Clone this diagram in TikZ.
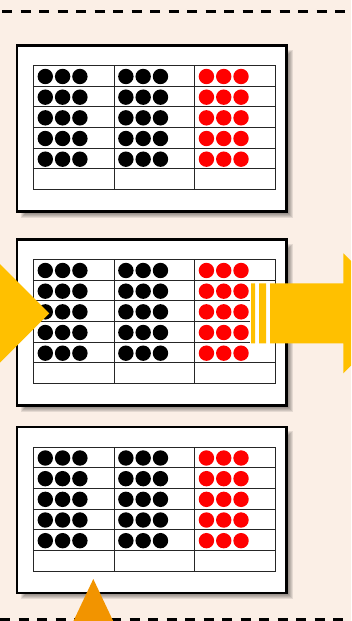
\documentclass[tikz,border=0pt]{standalone}
\definecolor{bg}{RGB}{251,239,230}
\definecolor{gold}{RGB}{255,192,0}
\definecolor{orng}{RGB}{242,148,0}
\definecolor{dotred}{RGB}{255,0,0}
\tikzset{
  dashline/.style={line width=3pt, dash pattern=on 10pt off 8.5pt},
  panelframe/.style={line width=2.8pt, draw=black, fill=white},
  gridline/.style={line width=0.9pt, draw=black!85},
  panel/.pic={
    \foreach \d in {0,...,6}
      \fill[black,opacity=0.09] (4+\d,4+\d) rectangle (276-\d,172-\d);
    \draw[panelframe] (0,0) rectangle (269.5,166);
    \foreach \r in {1,...,5}
      \draw[gridline] (16.8,20+\r*20.67) -- (258.5,20+\r*20.67);
    \foreach \c in {1,2}
      \draw[gridline] (16.8+\c*80.57,20) -- (16.8+\c*80.57,144);
    \draw[gridline] (16.8,20) rectangle (258.5,144);
    \foreach \c/\col in {0/black,1/black,2/dotred}
      \foreach \r in {0,...,4}
        \foreach \k in {0,1,2}
          \fill[\col] (16.8+\c*80.57+11.5+\k*17.3, 20+\r*20.67+11) circle (7.7);
  }
}
\begin{document}
\begin{tikzpicture}[x=1pt,y=-1pt]
\useasboundingbox (0,0) rectangle (351,621);
\fill[bg] (0,0) rectangle (351,621);
\clip (0,0) rectangle (351,621);
\draw[dashline] (2,11) coordinate (t0) -- (351,11) coordinate (t1);
\draw[dashline] (0,619) coordinate (b0) -- (351,619) coordinate (b1);
\pic (p1) at (17,45.5) {panel};
\pic (p2) at (17,239.5) {panel};
\pic (p3) at (17,427) {panel};
% left arrowhead
\fill[gold] (-20,244) -- (49.3,313.3) -- (-20,382.6) -- cycle;
% right striped arrow
\fill[white] (250,283.3) rectangle (270,343.3);
\fill[gold] (251,283.3) rectangle (255,343.3)
            (259,283.3) rectangle (266,343.3)
            (270,283.3) -- (343.3,283.3) -- (343.3,253.3) -- (403.3,313.3)
            -- (343.3,373.3) -- (343.3,343.3) -- (270,343.3) -- cycle;
% bottom arrowhead
\fill[orng] (93.3,579) -- (124,644) -- (62.6,644) -- cycle;
\end{tikzpicture}
\end{document}
